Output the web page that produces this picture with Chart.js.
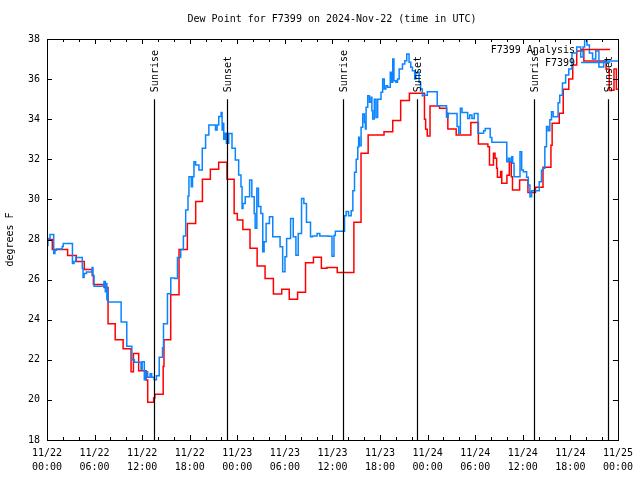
<!DOCTYPE html>
<html>
<head>
<meta charset="utf-8">
<script src="https://cdn.jsdelivr.net/npm/chart.js@4"></script>
<style>
  html, body { margin: 0; padding: 0; background: #fff; }
  canvas { display: block; }
</style>
</head>
<body>
<canvas id="dewChart" width="640" height="480"></canvas>
<script>
const FONT = '"DejaVu Sans Mono", "Liberation Mono", monospace';

// hours since 11/22 00:00 UTC
const analysisHours = [0, 0.67, 2.6, 3.7, 4.7, 5.7, 5.85, 7.2, 7.7, 8.6, 9.6, 10.6, 10.9, 11.56, 12.5, 12.7,
  13.45, 13.6, 14.65, 14.75, 15.6, 16.65, 17.7, 18.75, 19.6, 20.6, 21.65, 22.7, 23.6, 24.0, 24.7, 25.6,
  26.5, 27.5, 28.55, 29.6, 30.55, 31.6, 32.6, 33.6, 34.6, 35.3, 36.6, 38.7, 39.6, 40.5, 42.5, 43.6,
  44.6, 45.7, 47.6, 47.75, 47.95, 48.3, 49.5, 50.4, 50.55, 51.6, 53.45, 54.4, 55.6, 55.8, 56.3, 56.5,
  56.7, 56.8, 57.2, 57.35, 58.0, 58.3, 58.55, 58.7, 59.6, 60.65, 61.6, 62.55, 63.55, 63.7, 64.6, 65.1,
  65.8, 66.3, 66.8, 67.7, 70.5, 70.9, 71.5, 71.8, 72];
const analysisValues = [28.0, 27.5, 27.2, 26.9, 26.5, 26.2, 25.75, 25.6, 23.8, 23.0, 22.55, 21.41, 22.32, 21.45, 20.99, 19.88,
  20.1, 20.28, 21.66, 23.0, 25.25, 27.5, 28.8, 29.9, 31.0, 31.5, 31.85, 31.0, 29.3, 28.97, 28.5, 27.56,
  26.68, 26.06, 25.28, 25.52, 25.02, 25.37, 26.84, 27.11, 26.56, 26.6, 26.36, 28.86, 32.3, 33.21, 33.38, 33.93,
  34.93, 35.29, 34.0, 33.5, 33.16, 34.66, 34.54, 34.3, 33.51, 33.21, 33.84, 32.76, 32.63, 31.72, 32.3, 32.05,
  31.55, 31.1, 31.39, 30.8, 31.2, 31.88, 31.13, 30.47, 30.97, 30.34, 30.6, 31.6, 32.7, 33.8, 34.3, 35.5,
  36.0, 36.7, 37.4, 36.9, 36.5, 35.45, 36.5, 35.5, 35.5];

const obsHours = [0, 0.12, 0.38, 0.85, 1.0, 1.2, 1.92, 2.05, 3.21, 3.4, 3.63, 4.45, 4.55, 4.68, 4.97, 5.68,
  5.8, 5.93, 7.18, 7.35, 7.45, 7.55, 7.6, 7.68, 9.35, 10.06, 10.7, 11.02, 11.86, 12.0, 12.27, 12.45,
  12.69, 13.0, 13.2, 13.52, 13.8, 14.15, 14.57, 14.69, 15.19, 15.61, 16.11, 16.45, 16.86, 17.2, 17.49, 17.78,
  17.9, 18.2, 18.35, 18.53, 18.74, 19.16, 19.58, 20.0, 20.41, 21.25, 21.45, 21.66, 21.96, 22.08, 22.2, 22.29,
  22.45, 22.62, 22.92, 23.33, 23.75, 24.17, 24.46, 24.6, 24.71, 25.0, 25.55, 25.83, 26.13, 26.25, 26.46, 26.67,
  26.97, 27.21, 27.38, 27.63, 28.05, 28.47, 29.39, 29.72, 30.01, 30.22, 30.72, 31.05, 31.39, 31.68, 32.1, 32.39,
  32.72, 33.23, 33.48, 34.06, 34.4, 35.44, 35.94, 36.19, 36.36, 37.52, 37.73, 38.03, 38.36, 38.57, 38.78, 38.99,
  39.19, 39.3, 39.4, 39.61, 39.82, 40.03, 40.15, 40.24, 40.45, 40.66, 40.87, 40.97, 41.07, 41.28, 41.49, 41.7,
  42.12, 42.33, 42.53, 42.74, 42.95, 43.29, 43.45, 43.6, 43.75, 44.0, 44.2, 44.41, 44.83, 45.12, 45.37, 45.66,
  45.87, 46.08, 46.37, 46.5, 46.71, 46.92, 47.12, 47.33, 47.54, 47.96, 49.21, 50.38, 50.59, 51.71, 51.92, 52.13,
  52.34, 53.05, 53.3, 53.59, 53.88, 54.35, 55.06, 55.26, 55.89, 56.1, 57.98, 58.19, 58.39, 58.6, 58.73, 58.9,
  59.65, 59.86, 60.07, 60.48, 60.69, 60.9, 61.11, 62.07, 62.36, 62.57, 62.78, 62.99, 63.2, 63.41, 63.62, 63.83,
  64.45, 64.66, 65.0, 65.4, 65.8, 66.2, 66.8, 67.3, 67.6, 67.8, 68.1, 68.4, 68.8, 69.2, 69.6, 70.2, 72];
const obsValues = [27.7, 28.05, 28.25, 27.3, 27.47, 27.52, 27.65, 27.8, 26.8, 26.9, 27.1, 26.55, 26.1, 26.3, 26.38, 26.6,
  26.2, 25.67, 25.9, 25.4, 25.8, 25.0, 25.5, 24.88, 23.88, 22.67, 22.0, 21.88, 21.5, 21.9, 21.0, 21.4,
  21.13, 21.3, 21.13, 21.0, 21.2, 22.13, 22.6, 23.8, 25.3, 26.08, 26.05, 27.1, 27.5, 28.17, 29.47, 30.17,
  31.13, 30.63, 31.13, 31.88, 31.72, 31.47, 32.55, 33.21, 33.71, 33.46, 33.71, 34.13, 34.33, 33.46, 33.8, 33.0,
  33.3, 32.8, 33.29, 32.55, 31.97, 31.22, 30.63, 29.55, 29.8, 30.13, 30.97, 30.13, 29.3, 28.56, 30.55, 29.64,
  29.3, 27.39, 27.89, 28.8, 29.14, 28.14, 27.64, 26.39, 27.14, 28.05, 29.05, 28.14, 27.22, 28.3, 30.05, 29.8,
  28.86, 28.14, 28.17, 28.3, 28.17, 28.16, 27.16, 28.2, 28.41, 29.19, 29.4, 29.19, 29.44, 30.43, 31.35, 32.0,
  32.6, 33.1, 32.67, 33.6, 34.26, 33.84, 33.51, 34.59, 35.17, 34.84, 35.09, 34.42, 34.01, 35.0, 34.09, 35.0,
  35.34, 36.0, 35.51, 35.67, 35.59, 36.34, 35.84, 37.0, 35.92, 35.84, 36.0, 36.5, 36.75, 36.92, 37.25, 36.84,
  36.59, 36.42, 36.0, 36.3, 36.34, 35.84, 35.51, 35.17, 35.2, 35.37, 34.67, 34.1, 34.29, 33.63, 33.3, 34.54,
  34.33, 34.04, 34.21, 34.04, 34.29, 33.3, 33.43, 33.54, 33.09, 32.85, 31.88, 32.05, 31.88, 32.13, 31.8, 31.13,
  32.38, 31.47, 31.38, 31.1, 30.72, 30.13, 30.43, 30.88, 31.45, 31.55, 32.63, 33.63, 33.43, 33.97, 34.37, 34.12,
  34.82, 35.2, 35.8, 36.2, 36.5, 37.3, 37.6, 37.1, 37.6, 38.0, 37.7, 37.3, 37.0, 37.4, 36.6, 36.9, 36.9];

const sunHours = [13.44, 22.7, 37.36, 46.62, 61.4, 70.7];
const sunLabels = ['Sunrise', 'Sunset', 'Sunrise', 'Sunset', 'Sunrise', 'Sunset'];
const sunLineTop = 35; // degrees F where the marker lines stop

const seriesNames = ['F7399 Analysis', 'F7399'];
const seriesColors = ['#ff0000', '#0a84ff'];

function toPoints(xs, ys) {
  return xs.map((x, i) => ({ x: x, y: ys[i] }));
}

function pad2(n) {
  return (n < 10 ? '0' : '') + n;
}

// frame, inward ticks, sunrise/sunset markers, key and titles
const decorations = {
  id: 'decorations',
  afterDatasetsDraw(chart) {
    const { ctx, chartArea: a, scales: { x, y } } = chart;
    ctx.save();
    ctx.strokeStyle = '#000';
    ctx.fillStyle = '#000';
    ctx.font = '10px ' + FONT;

    // sunrise / sunset
    ctx.lineWidth = 1.2;
    sunHours.forEach((h, i) => {
      const px = Math.round(x.getPixelForValue(h)) + 0.5;
      ctx.beginPath();
      ctx.moveTo(px, y.getPixelForValue(sunLineTop));
      ctx.lineTo(px, a.bottom);
      ctx.stroke();
      ctx.save();
      ctx.translate(px + 1, y.getPixelForValue(sunLineTop) - 7);
      ctx.rotate(-Math.PI / 2);
      ctx.textAlign = 'left';
      ctx.textBaseline = 'middle';
      ctx.fillText(sunLabels[i], 0, 0);
      ctx.restore();
    });

    // frame
    ctx.lineWidth = 1;
    ctx.strokeRect(Math.round(a.left) + 0.5, Math.round(a.top) + 0.5,
      Math.round(a.right - a.left), Math.round(a.bottom - a.top));

    // inward ticks
    ctx.beginPath();
    for (let h = 0; h <= 72; h += 2) {
      const px = Math.round(x.getPixelForValue(h)) + 0.5;
      const len = h % 6 === 0 ? 5 : 3;
      ctx.moveTo(px, a.bottom); ctx.lineTo(px, a.bottom - len);
      ctx.moveTo(px, a.top); ctx.lineTo(px, a.top + len);
    }
    for (let v = 18; v <= 38; v += 2) {
      const py = Math.round(y.getPixelForValue(v)) + 0.5;
      ctx.moveTo(a.left, py); ctx.lineTo(a.left + 5, py);
      ctx.moveTo(a.right, py); ctx.lineTo(a.right - 5, py);
    }
    ctx.stroke();

    // key
    ctx.textAlign = 'right';
    ctx.textBaseline = 'middle';
    ctx.lineWidth = 1.5;
    seriesNames.forEach((name, i) => {
      const ty = 50 + i * 13;
      ctx.fillStyle = '#000';
      ctx.fillText(name, 575, ty);
      ctx.strokeStyle = seriesColors[i];
      ctx.beginPath();
      ctx.moveTo(581, ty - 0.5);
      ctx.lineTo(610, ty - 0.5);
      ctx.stroke();
    });

    // title and y label
    ctx.fillStyle = '#000';
    ctx.textAlign = 'center';
    ctx.fillText('Dew Point for F7399 on 2024-Nov-22 (time in UTC)', 332, 19);
    ctx.save();
    ctx.translate(10, (a.top + a.bottom) / 2);
    ctx.rotate(-Math.PI / 2);
    ctx.fillText('degrees F', 0, 0);
    ctx.restore();
    ctx.restore();
  }
};

new Chart(document.getElementById('dewChart'), {
  type: 'line',
  data: {
    datasets: [
      {
        label: seriesNames[1],
        data: toPoints(obsHours, obsValues),
        borderColor: seriesColors[1],
        borderWidth: 1.5,
        stepped: 'before',
        order: 0
      },
      {
        label: seriesNames[0],
        data: toPoints(analysisHours, analysisValues),
        borderColor: seriesColors[0],
        borderWidth: 1.5,
        stepped: 'before',
        order: 1
      }
    ]
  },
  options: {
    responsive: false,
    animation: false,
    devicePixelRatio: 1,
    layout: { padding: { top: 39, right: 18, left: 0, bottom: 0 } },
    elements: { point: { radius: 0 }, line: { tension: 0 } },
    plugins: { legend: { display: false }, tooltip: { enabled: false } },
    scales: {
      x: {
        type: 'linear',
        min: 0,
        max: 72,
        grid: { display: false, drawTicks: false },
        border: { display: false },
        afterFit: s => { s.height = 40; },
        ticks: {
          stepSize: 6,
          autoSkip: false,
          maxRotation: 0,
          padding: 7,
          color: '#000',
          font: { family: FONT, size: 10, lineHeight: 1.35 },
          callback: v => ['11/' + (22 + Math.floor(v / 24)), pad2(v % 24) + ':00']
        }
      },
      y: {
        min: 18,
        max: 38,
        grid: { display: false, drawTicks: false },
        border: { display: false },
        afterFit: s => { s.width = 47; },
        ticks: {
          stepSize: 2,
          padding: 7,
          color: '#000',
          font: { family: FONT, size: 10 }
        }
      }
    }
  },
  plugins: [decorations]
});
</script>
</body>
</html>
